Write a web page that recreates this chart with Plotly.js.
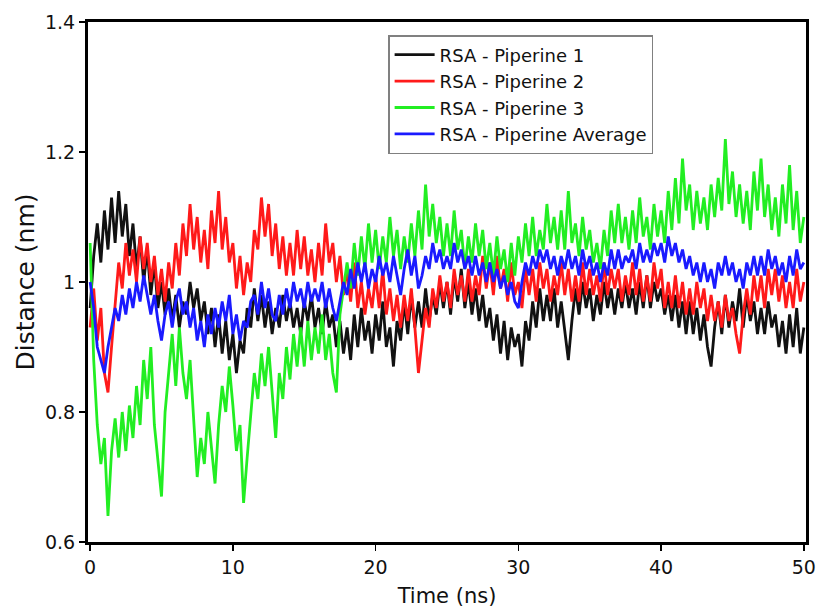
<!DOCTYPE html>
<html>
<head>
<meta charset="utf-8">
<script src="https://cdn.plot.ly/plotly-3.0.1.min.js"></script>
<style>html,body{margin:0;padding:0;background:#fff;}#chart{width:816px;height:612px;}</style>
</head>
<body>
<div id="chart"></div>
<script>
// Time step of the sampled series (ns)
const timeStep = 0.25;

const seriesNames = ["RSA - Piperine 1", "RSA - Piperine 2", "RSA - Piperine 3", "RSA - Piperine Average"];

const piperine1 = [
0.96,1.04,1.09,1.03, 1.11,1.05,1.13,1.06, 1.14,1.07,1.12,1.04, 1.09,1.02,1.07,1.00,
1.05,0.98,1.03,0.96, 1.00,0.95,0.99,0.94, 0.98,0.93,0.97,0.95, 1.00,0.96,0.99,0.94,
0.97,0.92,0.96,0.90, 0.95,0.89,0.94,0.88, 0.92,0.86,0.91,0.89, 0.96,0.93,0.99,0.94,
0.98,0.93,0.97,0.92, 0.96,0.93,0.98,0.94, 0.97,0.93,0.96,0.92, 0.97,0.94,0.98,0.93,
0.96,0.92,0.97,0.93, 0.95,0.90,0.94,0.89, 0.93,0.88,0.95,0.90, 0.96,0.91,0.94,0.89,
0.95,0.91,0.97,0.90, 0.93,0.87,0.94,0.91, 0.97,0.92,0.98,0.93, 0.97,0.93,0.99,0.94,
0.98,0.95,1.00,0.96, 1.00,0.95,1.01,0.97, 1.02,0.96,1.00,0.95, 0.99,0.94,0.98,0.93,
0.96,0.91,0.95,0.89, 0.94,0.88,0.93,0.90, 0.92,0.87,0.94,0.91, 0.97,0.93,0.99,0.94,
0.98,0.94,0.99,0.93, 0.97,0.92,0.88,0.94, 0.99,0.95,1.00,0.96, 0.99,0.94,0.98,0.95,
1.00,0.96,0.99,0.95, 0.99,0.96,1.00,0.96, 0.99,0.95,1.00,0.96, 1.01,0.96,1.00,0.97,
0.99,0.95,0.98,0.94, 0.98,0.93,0.97,0.92, 0.97,0.92,0.96,0.91, 0.95,0.90,0.87,0.93,
0.97,0.92,0.98,0.93, 0.97,0.94,0.99,0.93, 0.98,0.94,0.97,0.92, 0.96,0.92,0.97,0.93,
0.95,0.90,0.94,0.89, 0.95,0.90,0.96,0.89, 0.93];

const piperine2 = [
0.93,0.99,0.91,0.96, 0.86,0.83,0.90,0.97, 1.03,0.99,1.06,1.01, 1.05,1.00,1.07,1.02,
1.06,1.00,1.04,0.98, 1.02,0.97,1.03,0.99, 1.06,1.01,1.09,1.04, 1.12,1.05,1.10,1.03,
1.08,1.02,1.11,1.06, 1.14,1.05,1.10,1.03, 1.06,0.99,1.04,0.98, 1.03,1.00,1.08,1.05,
1.13,1.07,1.12,1.04, 1.09,1.02,1.07,1.01, 1.06,1.01,1.08,1.02, 1.07,1.01,1.05,1.00,
1.06,1.01,1.09,1.03, 1.06,1.00,1.04,0.98, 1.02,0.97,1.03,0.96, 1.00,0.95,0.99,0.96,
1.01,0.96,1.02,0.95, 0.99,0.94,0.98,0.93, 0.98,0.94,0.99,0.93, 0.86,0.91,0.96,0.93,
0.99,0.96,1.01,0.97, 1.00,0.96,1.02,0.98, 1.01,0.97,1.02,0.97, 1.01,0.98,1.04,0.99,
1.03,0.98,1.04,0.99, 1.02,0.97,1.03,0.98, 1.00,0.96,1.02,0.98, 1.02,0.97,1.03,0.99,
1.02,0.97,1.01,0.98, 1.03,0.98,1.02,0.97, 1.01,0.97,1.03,0.98, 1.02,0.98,1.01,0.97,
1.03,0.98,1.02,0.99, 1.02,0.97,1.01,0.98, 1.03,0.98,1.02,0.97, 1.01,0.97,1.03,0.99,
1.02,0.96,1.00,0.96, 1.01,0.96,1.00,0.95, 0.99,0.95,1.00,0.96, 0.99,0.94,0.98,0.94,
0.97,0.93,0.98,0.94, 0.96,0.92,0.89,0.95, 0.99,0.95,1.01,0.97, 1.01,0.96,1.02,0.98,
1.02,0.97,1.01,0.96, 1.00,0.96,1.02,0.97, 1.00];

const piperine3 = [
1.06,0.88,0.78,0.72, 0.76,0.64,0.74,0.79, 0.73,0.80,0.74,0.81, 0.76,0.84,0.78,0.88,
0.82,0.90,0.78,0.72, 0.67,0.80,0.86,0.92, 0.84,0.93,0.86,0.82, 0.88,0.78,0.70,0.76,
0.72,0.80,0.74,0.69, 0.78,0.84,0.80,0.87, 0.81,0.74,0.78,0.66, 0.73,0.80,0.86,0.82,
0.89,0.84,0.90,0.83, 0.76,0.86,0.82,0.90, 0.85,0.92,0.87,0.93, 0.87,0.94,0.88,0.93,
0.89,0.95,0.88,0.92, 0.86,0.83,0.95,0.99, 1.03,0.99,1.06,1.01, 1.07,1.02,1.09,1.03,
1.08,1.02,1.07,1.03, 1.10,1.04,1.08,1.02, 1.07,1.03,1.09,1.04, 1.11,1.05,1.15,1.07,
1.12,1.06,1.10,1.04, 1.09,1.04,1.11,1.05, 1.08,1.02,1.07,1.03, 1.09,1.04,1.08,1.02,
1.06,1.01,1.07,1.02, 1.05,1.00,1.06,1.01, 1.07,1.03,1.09,1.04, 1.10,1.04,1.08,1.05,
1.12,1.06,1.10,1.05, 1.11,1.05,1.14,1.06, 1.09,1.04,1.10,1.05, 1.08,1.03,1.06,1.02,
1.08,1.04,1.11,1.06, 1.12,1.06,1.10,1.05, 1.11,1.06,1.13,1.07, 1.10,1.05,1.12,1.07,
1.11,1.06,1.14,1.08, 1.16,1.09,1.19,1.11, 1.15,1.08,1.14,1.09, 1.13,1.08,1.15,1.10,
1.16,1.11,1.22,1.12, 1.17,1.10,1.15,1.09, 1.14,1.08,1.17,1.11, 1.19,1.10,1.15,1.08,
1.13,1.07,1.15,1.09, 1.18,1.08,1.14,1.06, 1.10];

const piperineAverage = [
1.00,0.96,0.90,0.88, 0.86,0.90,0.93,0.96, 0.94,0.98,0.95,0.99, 0.96,1.00,0.97,1.01,
0.98,0.95,0.98,0.94, 0.91,0.95,0.97,0.93, 0.97,0.99,0.95,0.97, 0.93,0.96,0.91,0.94,
0.90,0.95,0.92,0.96, 0.93,0.97,0.94,0.98, 0.92,0.95,0.91,0.94, 0.93,0.97,0.98,0.95,
1.00,0.96,0.99,0.95, 0.94,0.98,0.95,0.99, 0.96,1.00,0.97,0.99, 0.96,1.00,0.97,0.99,
0.97,1.00,0.96,0.99, 0.96,0.94,0.97,1.00, 0.98,1.02,0.99,1.03, 1.00,1.03,0.99,1.02,
1.00,1.04,1.01,1.03, 1.00,1.04,1.01,0.98, 1.02,1.05,1.01,1.04, 0.99,1.01,1.04,1.02,
1.06,1.03,1.05,1.02, 1.04,1.02,1.06,1.03, 1.05,1.02,1.04,1.01, 1.04,1.01,1.03,1.00,
1.03,1.00,1.02,0.99, 1.01,0.98,1.00,0.97, 0.96,1.00,1.03,1.01, 1.04,1.02,1.05,1.03,
1.05,1.02,1.04,1.01, 1.04,1.02,1.05,1.02, 1.04,1.01,1.05,1.02, 1.04,1.01,1.03,1.00,
1.03,1.01,1.05,1.02, 1.05,1.02,1.04,1.03, 1.05,1.02,1.06,1.03, 1.05,1.03,1.06,1.04,
1.06,1.03,1.07,1.04, 1.06,1.03,1.05,1.02, 1.04,1.01,1.03,1.00, 1.03,1.00,1.02,0.99,
1.03,1.01,1.04,1.01, 1.03,1.00,1.02,0.99, 1.03,1.01,1.04,1.01, 1.04,1.01,1.05,1.02,
1.04,1.01,1.03,1.00, 1.04,1.01,1.05,1.02, 1.03];

const xTickVals = [0, 10, 20, 30, 40, 50];
const yTickVals = [0.6, 0.8, 1.0, 1.2, 1.4];
const yTickText = ["0.6", "0.8", "1", "1.2", "1.4"];

const colors = ["#111111", "#ff1a1a", "#22ee22", "#1a1aff"];
const allSeries = [piperine1, piperine2, piperine3, piperineAverage];

const time = piperine1.map((_, i) => i * timeStep);

const traces = allSeries.map((vals, k) => ({
  x: time,
  y: vals,
  type: "scatter",
  mode: "lines",
  name: seriesNames[k],
  legendgroup: "g" + k,
  line: { color: colors[k], width: 2.8 }
}));

const fontFam = "DejaVu Sans, Verdana, sans-serif";

const layout = {
  width: 816,
  height: 612,
  margin: { l: 88, r: 10, t: 22, b: 70 },
  paper_bgcolor: "#ffffff",
  plot_bgcolor: "#ffffff",
  showlegend: true,
  legend: {
    x: 0.418, y: 0.975, xanchor: "left", yanchor: "top",
    bgcolor: "#ffffff", bordercolor: "#808080", borderwidth: 1.5,
    font: { family: fontFam, size: 18, color: "#111" },
    tracegroupgap: 0,
    itemwidth: 40
  },
  xaxis: {
    range: [-0.15, 50.15],
    tickvals: xTickVals,
    ticks: "outside", ticklen: 6, tickwidth: 1.5, tickcolor: "#000",
    showline: true, linecolor: "#000", linewidth: 3, mirror: true,
    showgrid: false, zeroline: false,
    tickfont: { family: fontFam, size: 19, color: "#111" },
    title: { text: "Time (ns)", font: { family: fontFam, size: 21, color: "#111" }, standoff: 12 }
  },
  yaxis: {
    range: [0.6, 1.4],
    tickvals: yTickVals,
    ticktext: yTickText,
    ticks: "outside", ticklen: 6, tickwidth: 1.5, tickcolor: "#000",
    showline: true, linecolor: "#000", linewidth: 3, mirror: true,
    showgrid: false, zeroline: false,
    tickfont: { family: fontFam, size: 19, color: "#111" },
    title: { text: "Distance (nm)", font: { family: fontFam, size: 25, color: "#111" }, standoff: 4 }
  }
};

Plotly.newPlot("chart", traces, layout, { staticPlot: true, displayModeBar: false });
</script>
</body>
</html>
